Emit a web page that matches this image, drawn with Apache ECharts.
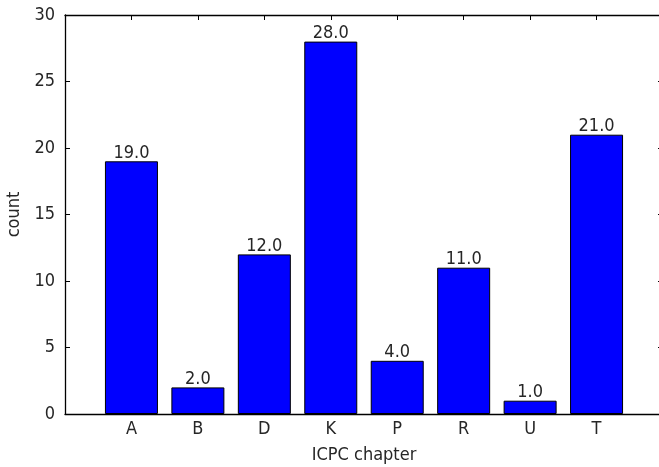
<!DOCTYPE html>
<html>
<head>
<meta charset="utf-8">
<script src="https://cdn.jsdelivr.net/npm/echarts@6/dist/echarts.min.js"></script>
<style>
  html, body { margin: 0; padding: 0; background: #fff; }
  #chart { width: 659px; height: 467px; }
</style>
</head>
<body>
<div id="chart"></div>
<script>
var chapters = ['A', 'B', 'D', 'K', 'P', 'R', 'U', 'T'];
var counts = [19, 2, 12, 28, 4, 11, 1, 21];
var yTicks = [0, 5, 10, 15, 20, 25, 30];

var font = '"DejaVu Sans Condensed", "DejaVu Sans"';
var fsize = 18;
var txt = '#262626';

var myChart = echarts.init(document.getElementById('chart'));

var gridLeft = 65, gridRight = -4;
var plotW = 659 - gridLeft - gridRight;
var slot = plotW / 9;

var data = counts.map(function (v, i) { return [i, v]; });

var tickStyle = { show: true, inside: true, length: 5, lineStyle: { color: '#000', width: 1 } };
var spine = { show: true, onZero: false, lineStyle: { color: '#000', width: 1.3 } };

var option = {
    backgroundColor: '#fff',
    animation: false,
    grid: { left: gridLeft, right: gridRight, top: 15, bottom: 53, containLabel: false, outerBoundsMode: 'none' },
    xAxis: [
        {
            type: 'value',
            min: -1,
            max: 8,
            interval: 1,
            name: 'ICPC chapter',
            nameLocation: 'middle',
            nameGap: 32,
            nameTextStyle: { fontFamily: font, fontSize: fsize, color: txt },
            axisLine: spine,
            axisTick: tickStyle,
            splitLine: { show: false },
            axisLabel: {
                fontFamily: font, fontSize: fsize, color: txt, margin: 6,
                showMinLabel: false, showMaxLabel: false,
                formatter: function (v) { return chapters[v] !== undefined ? chapters[v] : ''; }
            }
        },
        {
            type: 'value',
            position: 'top',
            min: -1,
            max: 8,
            interval: 1,
            axisLine: spine,
            axisTick: tickStyle,
            axisLabel: { show: false },
            splitLine: { show: false }
        }
    ],
    yAxis: [
        {
            type: 'value',
            min: 0,
            max: 30,
            interval: 5,
            name: 'count',
            nameLocation: 'middle',
            nameGap: 40,
            nameTextStyle: { fontFamily: font, fontSize: fsize, color: txt },
            axisLine: spine,
            axisTick: tickStyle,
            splitLine: { show: false },
            axisLabel: {
                fontFamily: font, fontSize: fsize, color: txt, margin: 10,
                formatter: function (v) { return yTicks.indexOf(v) >= 0 ? String(v) : ''; }
            }
        },
        {
            type: 'value',
            position: 'right',
            min: 0,
            max: 30,
            interval: 5,
            axisLine: spine,
            axisTick: tickStyle,
            axisLabel: { show: false },
            splitLine: { show: false }
        }
    ],
    series: [
        {
            type: 'bar',
            data: data,
            barWidth: Math.round(slot * 0.8),
            itemStyle: { color: '#0000ff', borderColor: '#000', borderWidth: 1 },
            label: {
                show: true,
                position: 'top',
                distance: -1,
                fontFamily: font,
                fontSize: fsize,
                color: txt,
                formatter: function (p) { return p.value[1].toFixed(1); }
            }
        }
    ]
};

myChart.setOption(option);
</script>
</body>
</html>
